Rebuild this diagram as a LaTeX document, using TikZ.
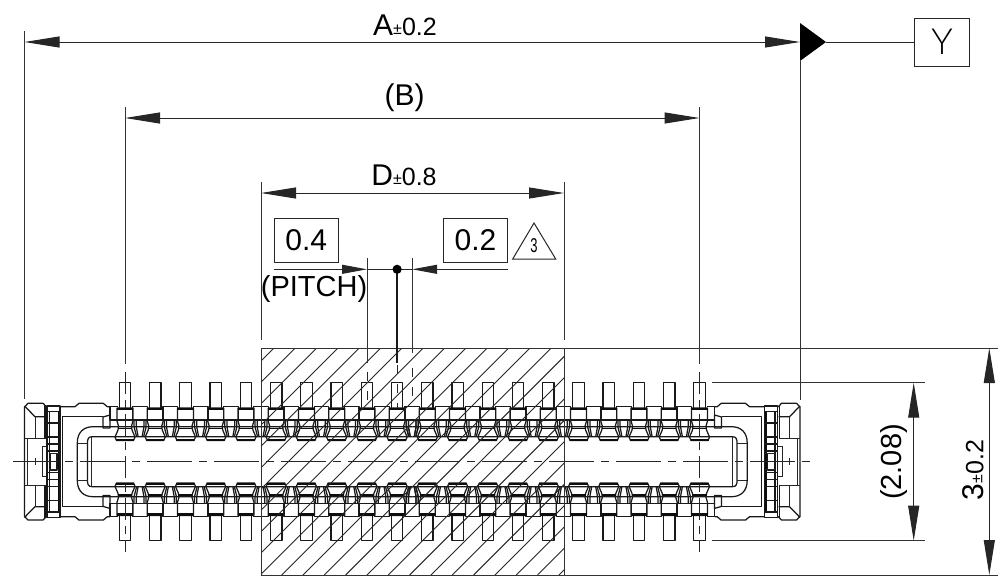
\documentclass[tikz,border=0pt]{standalone}
\usepackage{fontspec}
\setmainfont{Liberation Sans}
\newfontfamily\lightfont{Lato Light}
\usetikzlibrary{arrows.meta}
\newcommand{\lblA}[2]{\fontsize{30}{30}\selectfont #1\fontsize{16}{16}\selectfont\raisebox{1pt}{±}\fontsize{25}{26}\selectfont #2}
\tikzset{
  part/.style={line width=1.25pt,black!90,line join=round},
  heavy/.style={line width=2.2pt,black!95},
  thin part/.style={line width=.9pt,black!85},
  dimline/.style={line width=1pt,black!85},
  extline/.style={line width=1pt,black!80},
  arrowboth/.style={dimline,{Triangle[length=35pt,width=11pt,sep=0pt]}-{Triangle[length=35pt,width=11pt,sep=0pt]}},
  arrowend/.style={dimline,-{Triangle[length=25pt,width=9pt,sep=0pt]}},
  center long/.style={line width=1pt,black!85,dash pattern=on 45pt off 7pt on 8pt off 7pt},
  center short/.style={line width=1pt,black!85,dash pattern=on 22pt off 6pt on 8pt off 6pt},
  center dash/.style={line width=1pt,black!85,dash pattern=on 9pt off 10pt},
  label/.style={inner sep=0pt,anchor=base,font=\fontsize{30}{30}\selectfont},
  framebox/.style={draw,line width=1pt,black!85,text=black,inner sep=0pt},
  hatch/.style={line width=.9pt,black!85}
}
% one quarter of the connector: the other three are mirrored from it
\newcommand{\quadrant}{%
  % end cap
  \draw[part] (24.5,461.7) -- (24.5,407) -- (28,403.3) -- (43,403.3) -- (46.5,407);
  \draw[part] (24.5,406) -- (35,416.7) -- (46,416.7);
  \draw[thin part] (35,416.7) -- (35,438.3);
  \draw[part] (45,405) -- (45,438.3);
  \draw[thin part] (24.5,438.3) -- (46,438.3);
  \draw[thin part] (27,438.3) -- (27,461.7);
  \draw[thin part] (35,461.7) -- (35,458);
  \draw[thin part] (42,461.7) -- (42,446.7) -- (47,446.7);
  % ribbed band
  \draw[part] (47,461.7) -- (47,406) -- (60,406) -- (60,461.7);
  \draw[part] (49.5,461.7) -- (49.5,411.5);
  \draw[heavy,line width=1.5pt] (58.5,461.7) -- (58.5,411.5);
  \foreach \ry in {411.5,423,437,444,451}{\draw[part] (47,\ry) -- (60,\ry);}
  \draw[part] (50,461.7) -- (50,453.5) -- (57,453.5) -- (57,461.7);
  \draw[thin part] (48.7,453.5) -- (59.3,453.5);
  % neck
  \draw[part] (60,406.7) -- (75,406.7) -- (79,403.3) -- (103.3,403.3) -- (107.3,406.7) -- (110,406.7);
  \draw[part] (62.7,461.7) -- (62.7,416.7) -- (103,416.7);
  \draw[part] (103,428) -- (103,417) -- (110,415) -- (110,428) -- cycle;
  % inner U
  \draw[part] (77.3,461.7) -- (77.3,443) .. controls (77.3,432) and (84,426.7) .. (93,426.7) -- (412.25,426.7);
  \draw[part] (87.5,461.7) -- (87.5,443) .. controls (87.5,439.5) and (88,436.7) .. (92,436.7) -- (412.25,436.7);
  \draw[thin part] (91.7,461.7) -- (91.7,436.7);
  \draw[thin part] (77.3,443) -- (87.5,443);
  % lines between the terminals
  \draw[part] (117.5,420) -- (412.25,420);
  % half terminal at the end of the row
  \draw[part] (117.5,406.7) -- (110,406.7) -- (110,420) -- (117.5,420);
  \foreach \i in {0,...,9}{
    \pgfmathsetmacro{\cx}{125+30.237*\i}
    \pgfmathsetmacro{\bx}{\cx+15.118}
    % solder tail
    \draw[part] (\cx-5.7,408) -- (\cx-5.7,382.7) -- (\cx+5.7,382.7) -- (\cx+5.7,408);
    % terminal body
    \draw[part] (\cx-8,408) -- (\cx-8,421) -- (\cx-6.5,426) -- (\cx-7,430) -- (\cx-10,437) -- (\cx-8.5,440.5) -- (\cx+8.5,440.5) -- (\cx+10,437) -- (\cx+7,430) -- (\cx+6.5,426) -- (\cx+8,421) -- (\cx+8,408) -- cycle;
    \draw[heavy] (\cx-8,409) -- (\cx+8,409);
    \draw[heavy] (\cx-9,439.8) -- (\cx+9,439.8);
    \draw[part] (\cx-8,420) -- (\cx+8,420);
    \draw[heavy,line width=1.6pt] (\cx-7,428.5) -- (\cx+7,428.5);
    % contact between the tails
    \draw[part] (\bx-7.3,406.7) rectangle (\bx+7.3,420);
    \foreach \s in {-1,1}{
      \draw[part] (\bx+\s*6,420) -- (\bx+\s*6,427) -- (\bx+\s*3.5,436.7);
      \draw[part] (\bx+\s*3.8,420) -- (\bx+\s*3.8,427) -- (\bx+\s*2,436.7);
    }
  }
}
\begin{document}
\begin{tikzpicture}[x=1pt,y=-1pt]
\useasboundingbox (0,0) rectangle (998,576);
% named reference points
\coordinate (Al) at (24.5,42);  \coordinate (Ar) at (800,42);
\coordinate (Bl) at (125,118);  \coordinate (Br) at (699.5,118);
\coordinate (Dl) at (261,193);  \coordinate (Dr) at (564,193);
\coordinate (Ht) at (913.7,382.7); \coordinate (Hb) at (913.7,540.7);
\coordinate (Tt) at (989.3,348);   \coordinate (Tb) at (989.3,575);
\coordinate (Pl) at (274.3,269.3); \coordinate (Pa) at (367,269.3);
\coordinate (Pr) at (507.7,269.3); \coordinate (Pb) at (412.2,269.3);
\coordinate (Dtip) at (826,42);

% connector body
\quadrant
\begin{scope}[shift={(824.5,0)},xscale=-1]\quadrant\end{scope}
\begin{scope}[shift={(0,923.4)},yscale=-1]\quadrant\end{scope}
\begin{scope}[shift={(824.5,923.4)},xscale=-1,yscale=-1]\quadrant\end{scope}

% hatched block
\begin{scope}
  \clip (261,348) rectangle (564,575);
  \foreach \k in {-1,...,25}{
    \pgfmathsetmacro{\s}{622+21.33*\k}
    \draw[hatch] (\s-348,348) -- (\s-575,575);
  }
\end{scope}
\draw[extline] (261,348) rectangle (564,575);
\draw[extline] (564,348) -- (998,348);
\draw[extline] (564,575) -- (998,575);

% centre lines
\draw[center long] (13,461.7) -- (811.5,461.7);
\draw[center short] (125,372) -- (125,551.7);
\draw[center short] (699.5,372) -- (699.5,551.7);
\draw[center dash] (367,372) -- (367,408);
\draw[center dash] (397.1,365) -- (397.1,408);
\draw[center dash] (412.2,368) -- (412.2,400);

% extension lines
\draw[extline] (24.5,31) -- (24.5,399);
\draw[extline] (800,61) -- (800,399.5);
\draw[extline] (125,107) -- (125,364);
\draw[extline] (699.5,107) -- (699.5,364);
\draw[extline] (261,182) -- (261,340);
\draw[extline] (564,182) -- (564,340);
\draw[extline] (367,258) -- (367,363);
\draw[line width=1.3pt,black!90] (397.1,269.3) -- (397.1,363);
\draw[extline] (412.2,258) -- (412.2,353);
\draw[extline] (712,382.7) -- (925,382.7);
\draw[extline] (712,540.7) -- (925,540.7);

% dimension lines
\draw[arrowboth] (Al) -- (Ar);
\draw[arrowboth] (Bl) -- (Br);
\draw[arrowboth] (Dl) -- (Dr);
\draw[arrowboth] (Ht) -- (Hb);
\draw[arrowboth] (Tt) -- (Tb);
\draw[arrowend] (Pl) -- (Pa);
\draw[arrowend] (Pr) -- (Pb);
\draw[dimline] (Pa) -- (Pb);
\fill[black] (397.1,269.3) circle (4.6);

% datum
\fill[black] (800,23) -- (Dtip) -- (800,61) -- cycle;
\node[framebox,minimum width=54.6pt,minimum height=48pt,font=\lightfont\fontsize{36}{38}\selectfont] (Ybox) at (942,42) {Y};
\draw[dimline] (Dtip) -- (Ybox.west);

% labels
\node[label] (lA) at (405,35) {\lblA{A}{0.2}};
\node[label] (lB) at (404.5,105) {(B)};
\node[label] (lD) at (404,185) {\lblA{D}{0.8}};
\node[framebox,minimum width=63.7pt,minimum height=44pt,font=\fontsize{30}{30}\selectfont] (b04) at (306.2,240.3) {0.4};
\node[framebox,minimum width=64.4pt,minimum height=44pt,font=\fontsize{30}{30}\selectfont] (b02) at (475.5,240.3) {0.2};
\node[label,font=\fontsize{29}{30}\selectfont] (lP) at (314,296) {(PITCH)};
\draw[line width=1pt,black!85] (534,223) -- (555.7,259) -- (512.7,259) -- cycle;
\node[inner sep=0pt,anchor=base,xscale=.65,font=\fontsize{20}{22}\selectfont] (tri) at (534,252) {3};
\node[label,rotate=90,font=\fontsize{29}{30}\selectfont] (l208) at (901.7,462) {(2.08)};
\node[label,rotate=90] (l3) at (983.3,470) {\lblA{3}{0.2}};
\end{tikzpicture}
\end{document}
